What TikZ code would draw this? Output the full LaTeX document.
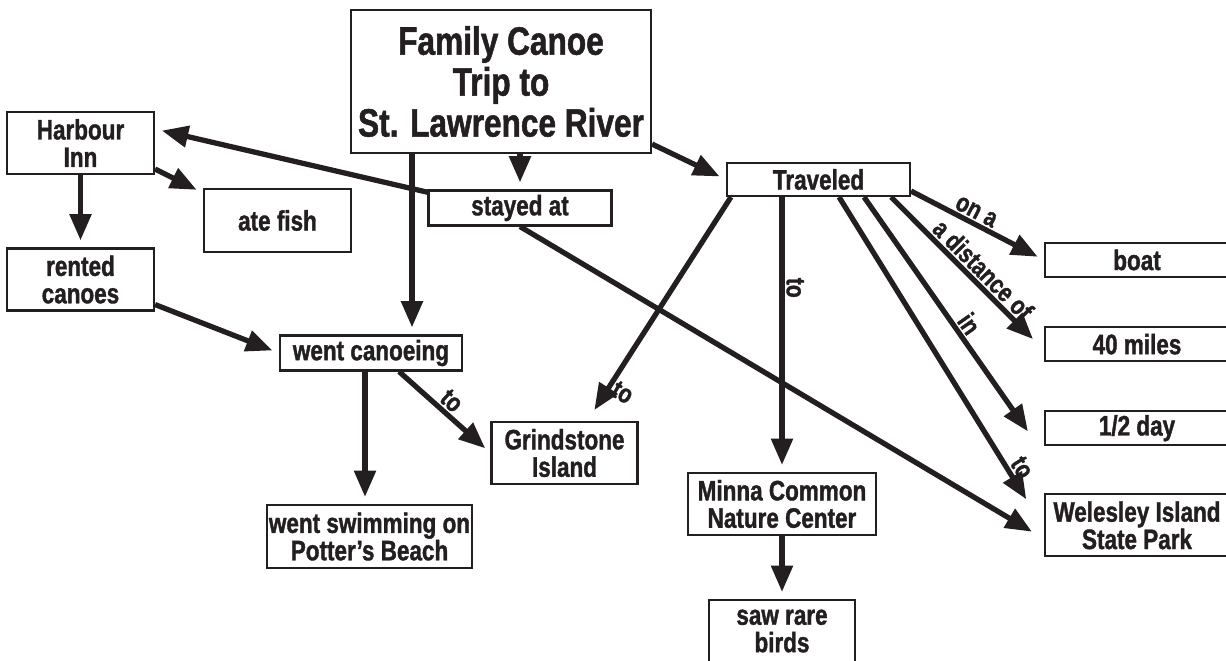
\documentclass[tikz,border=0pt]{standalone}
\usepackage{fontspec}
\setmainfont{Liberation Sans}[FakeStretch=0.8, BoldFeatures={FakeBold=1.3}]
\usepackage{tikz}
\usetikzlibrary{arrows.meta, positioning, calc}
\definecolor{ink}{HTML}{231F20}

\begin{document}
\begin{tikzpicture}[
    x=0.02cm, y=-0.02cm,
    node distance=0.96cm and 0.2cm,
    box/.style={draw=ink, line width=1.2pt, align=center, inner sep=0pt,
                text=ink, font=\bfseries\fontsize{16}{15.6}\selectfont},
    arrow/.style={-{Triangle[length=15pt, width=12pt]}, line width=3pt,
                  draw=ink, shorten >=4pt},
    lab/.style={font=\bfseries\fontsize{15}{15}\selectfont, text=ink,
                sloped, above, inner sep=1pt}
]
\useasboundingbox (0,0) rectangle (1226,660);
\clip (0,0) rectangle (1226,660);

\node[box, minimum width=6cm, minimum height=2.86cm,
      font=\bfseries\fontsize{22.5}{23.3}\selectfont] (title) at (501,81.5)
    {Family Canoe\\Trip to\\St. Lawrence River};

\node[box, minimum width=2.94cm, minimum height=1.24cm] (harbour) at (80.5,143)
    {Harbour\\Inn};
\node[box, minimum width=2.94cm, minimum height=1.26cm] (atefish) at (277.5,220.5)
    {ate fish};
\node[box, minimum width=2.94cm, minimum height=1.24cm] (rented) at (80.5,279.5)
    {rented\\canoes};
\node[box, minimum width=3.66cm, minimum height=0.7cm] (stayed) at (520,208)
    {stayed at};
\node[box, minimum width=3.66cm, minimum height=0.66cm] (traveled) at (818.5,179.5)
    {Traveled};
\node[box, minimum width=3.64cm, minimum height=0.7cm] (canoe) at (371,353)
    {went canoeing};
\node[box, minimum width=2.92cm, minimum height=1.24cm] (grind) at (564.5,453)
    {Grindstone\\Island};
\node[box, minimum width=4.1cm, minimum height=1.26cm] (swim) at (369.5,536.5)
    {went swimming on\\Potter’s Beach};
\node[box, minimum width=3.76cm, minimum height=1.24cm] (minna) at (782,504)
    {Minna Common\\Nature Center};
\node[box, minimum width=2.92cm, minimum height=1.24cm] (birds) at (782,631)
    {saw rare\\birds};

% right column
\node[box, minimum width=3.68cm, minimum height=0.68cm] (boat) at (1137,260)
    {boat};
\node[box, minimum width=3.68cm, minimum height=0.68cm, below=of boat] (miles)
    {40 miles};
\node[box, minimum width=3.68cm, minimum height=0.68cm, below=of miles] (day)
    {1/2 day};
\node[box, minimum width=3.68cm, minimum height=1.24cm, below=0.94cm of day] (wel)
    {Welesley Island\\State Park};

\draw[arrow] (title.south -| stayed.north) -- (stayed.north);
\draw[arrow] ($(title.south)+(-89,0)$) -- ($(canoe.north)+(41,0)$);
\draw[arrow] ($(title.south east)+(0,-10)$) -- (traveled.west);
\draw[arrow] ($(stayed.north west)+(1,3)$) -- ($(harbour.east)+(0,-14)$);
\draw[arrow] (stayed.south) -- ($(wel.west)+(-6,10)$);
\draw[arrow] ($(harbour.south east)+(0,-6)$) -- ($(atefish.north west)+(0,5)$);
\draw[arrow] (harbour.south) -- (rented.north);
\draw[arrow] ($(rented.south east)+(0,-7)$) -- (canoe.west);
\draw[arrow] ($(canoe.south)+(-6,0)$) -- ($(swim.north)+(-4.5,0)$);
\draw[arrow] ($(canoe.south east)+(-64,0)$) -- node[lab, pos=0.48] {to} (grind.west);
\draw[arrow] ($(traveled.south west)+(5,0)$) -- node[lab, sloped=false, pos=0.86,
    anchor=west, rotate=-30] {to} ($(grind.north east)+(-48,-5)$);
\draw[arrow] (minna.north |- traveled.south) -- node[lab, pos=0.33] {to} (minna.north);
\draw[arrow] (minna.south) -- (birds.north);
\draw[arrow] ($(traveled.south east)+(0,-6)$) -- node[lab, pos=0.45] {on a} (boat.west);
\draw[arrow] ($(traveled.south east)+(-20,0)$) -- node[lab, pos=0.56] {a distance of}
    ($(miles.west)+(-6,0)$);
\draw[arrow] ($(traveled.south east)+(-47,0)$) -- node[lab, pos=0.56] {in}
    ($(day.west)+(-12,9)$);
\draw[arrow] ($(traveled.south east)+(-72,0)$) -- node[lab, pos=0.9] {to}
    ($(wel.north west)+(-14,12)$);

\end{tikzpicture}
\end{document}
